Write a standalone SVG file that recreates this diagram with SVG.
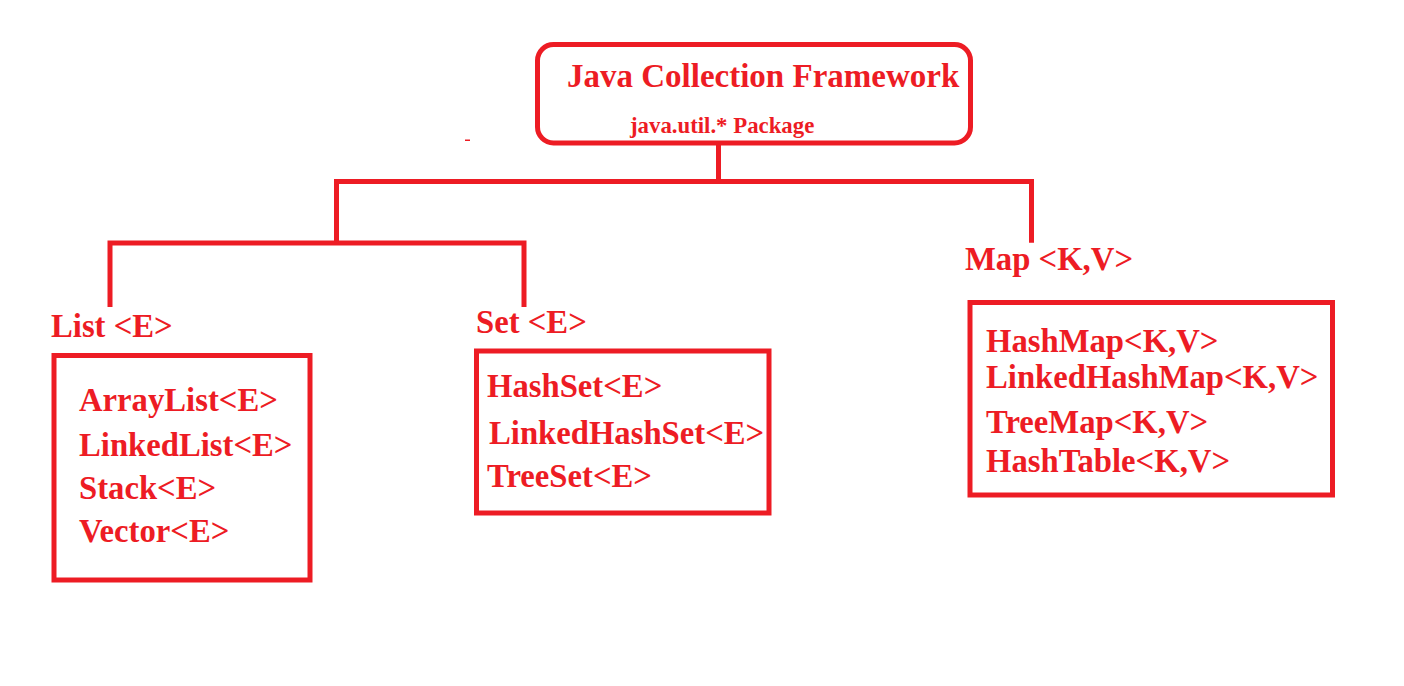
<svg xmlns="http://www.w3.org/2000/svg" width="1404" height="686" viewBox="0 0 1404 686">
<style>
.box{fill:none;stroke:#ED1C24;stroke-width:5}
.wire{fill:none;stroke:#ED1C24;stroke-width:5;stroke-linejoin:miter;stroke-linecap:butt}
text{font-family:"Liberation Serif","Times New Roman",serif;font-weight:bold;fill:#ED1C24}
.t{font-size:33px}
.s{font-size:22.8px}
.l{font-size:32.7px}
</style>
<rect x="0" y="0" width="1404" height="686" fill="#FFFFFF"/>
<g id="connectors">
<path class="wire" d="M718.5 143 V181.5"/>
<path class="wire" d="M336.5 243 V181.5 H1031.5 V242.7"/>
<path class="wire" d="M110 307 V243 H524 V307"/>
</g>
<rect x="465" y="139.5" width="5" height="1.5" fill="#ED1C24"/>
<g id="root">
<rect class="box" x="537.5" y="44.5" width="433" height="98.5" rx="16" ry="16"/>
<text class="t" x="567" y="87">Java Collection Framework</text>
<text class="s" x="630" y="133">java.util.* Package</text>
</g>
<g id="list">
<text class="l" x="51" y="337">List &lt;E&gt;</text>
<rect class="box" x="54" y="355.5" width="256" height="224.5"/>
<text class="l" x="79" y="411">ArrayList&lt;E&gt;</text>
<text class="l" x="79" y="456">LinkedList&lt;E&gt;</text>
<text class="l" x="79" y="499">Stack&lt;E&gt;</text>
<text class="l" x="79" y="542">Vector&lt;E&gt;</text>
</g>
<g id="set">
<text class="l" x="476" y="333">Set &lt;E&gt;</text>
<rect class="box" x="476.5" y="351" width="292.5" height="162"/>
<text class="l" x="487" y="397">HashSet&lt;E&gt;</text>
<text class="l" x="489" y="444">LinkedHashSet&lt;E&gt;</text>
<text class="l" x="487" y="487">TreeSet&lt;E&gt;</text>
</g>
<g id="map">
<text class="l" x="965" y="270">Map &lt;K,V&gt;</text>
<rect class="box" x="970" y="302.5" width="362.5" height="192.5"/>
<text class="l" x="986" y="352">HashMap&lt;K,V&gt;</text>
<text class="l" x="986" y="388">LinkedHashMap&lt;K,V&gt;</text>
<text class="l" x="986" y="433">TreeMap&lt;K,V&gt;</text>
<text class="l" x="986" y="472">HashTable&lt;K,V&gt;</text>
</g>
</svg>
